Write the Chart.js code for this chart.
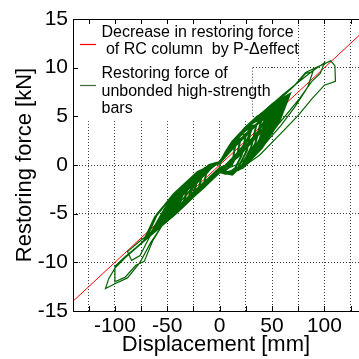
<!DOCTYPE html>
<html lang="en">
<head>
    <meta charset="UTF-8">
    <title>Restoring force vs displacement</title>
    <script src="https://cdn.jsdelivr.net/npm/chart.js@4/dist/chart.umd.min.js"></script>
    <style>
        body { margin: 0; background: #fff; }
        #wrap { width: 359px; height: 359px; }
    </style>
</head>
<body>
    <div id="wrap"><canvas id="chart" width="359" height="359"></canvas></div>

    <script>
        // red line: P-delta decrease
        const redX = [-140, 140];
        const redY = [-14, 14];

        // green hysteresis loops [displacement mm, force kN]
        // small / medium cycles (the dense band)
        const loop15 = [[0,0.1],[4,0.9],[8,1.5],[11,1.9],[15,2.1],[13,0.8],[9,-0.2],[5,-0.6],[0,-0.5],[-5,-1.1],[-9,-1.5],[-15,-2.0],[-13,-0.9],[-9,-0.4],[-5,0.1],[0,0.2]];
        const loop20 = [[0,0.2],[5,1.0],[10,1.8],[15,2.4],[20,2.7],[17,1.2],[12,0.1],[6,-0.5],[0,-0.5],[-7,-1.2],[-13,-1.8],[-20,-2.4],[-17,-1.1],[-11,-0.5],[-5,0.1],[0,0.3]];
        const loop25 = [[0,0.2],[6,1.4],[12,2.4],[19,3.2],[25,3.1],[21,1.0],[15,-0.3],[9,-0.8],[3,-0.7],[0,-0.5],[-8,-1.5],[-15,-2.3],[-25,-3.0],[-21,-1.4],[-15,-0.8],[-8,-0.1],[0,0.3]];
        const loop30 = [[0,0.2],[8,1.7],[15,2.7],[23,3.5],[30,3.8],[26,1.5],[18,-0.2],[10,-0.9],[3,-0.7],[0,-0.6],[-9,-1.6],[-18,-2.5],[-30,-3.6],[-26,-1.9],[-18,-0.9],[-9,0.0],[0,0.3]];
        const loop35 = [[0,0.2],[9,1.9],[18,3.1],[26,3.9],[35,4.1],[30,1.8],[21,-0.1],[12,-1.0],[4,-0.8],[0,-0.6],[-10,-1.7],[-21,-2.8],[-35,-4.0],[-30,-2.2],[-21,-1.0],[-10,0.0],[0,0.3]];
        const loop40 = [[0,0.3],[10,2.0],[20,3.3],[30,4.3],[40,4.7],[34,2.2],[24,0.3],[14,-0.8],[5,-0.8],[0,-0.6],[-12,-1.9],[-24,-3.1],[-40,-4.5],[-34,-2.6],[-24,-1.3],[-12,-0.2],[0,0.3]];
        const loop45 = [[0,0.3],[11,2.1],[23,3.6],[34,4.6],[45,5.1],[38,2.6],[27,0.5],[16,-0.6],[5,-0.8],[0,-0.6],[-14,-2.1],[-27,-3.4],[-45,-5.0],[-38,-3.0],[-27,-1.5],[-14,-0.3],[0,0.3]];
        const loop48 = [[0,0.3],[12,2.3],[24,3.8],[36,5.0],[48,5.5],[41,3.0],[29,0.8],[17,-0.5],[5,-0.9],[0,-0.7],[-15,-2.3],[-29,-3.6],[-48,-5.3],[-41,-3.3],[-29,-1.6],[-15,-0.4],[0,0.3]];
        const loop50 = [[0,0.2],[12,2.3],[25,3.8],[38,5.0],[50,5.6],[43,3.0],[30,0.8],[17,-0.5],[5,-0.8],[0,-0.6],[-15,-2.2],[-30,-3.7],[-50,-5.5],[-43,-3.4],[-30,-1.7],[-15,-0.4],[0,0.3]];
        const loop53 = [[0,0.2],[13,2.4],[26,4.0],[40,5.3],[53,5.9],[45,3.3],[32,0.9],[18,-0.5],[6,-0.9],[0,-0.7],[-16,-2.3],[-32,-3.9],[-53,-5.8],[-45,-3.6],[-32,-1.9],[-16,-0.5],[0,0.3]];
        const loop55 = [[0,0.3],[14,2.5],[27,4.0],[41,5.3],[55,6.1],[47,3.5],[33,1.1],[19,-0.4],[6,-0.9],[0,-0.6],[-16,-2.3],[-33,-4.0],[-55,-6.0],[-47,-3.9],[-33,-2.0],[-16,-0.5],[0,0.3]];
        const loop58 = [[0,0.3],[15,2.6],[29,4.2],[44,5.6],[58,6.4],[49,3.8],[35,1.3],[20,-0.3],[6,-0.9],[0,-0.6],[-17,-2.4],[-35,-4.3],[-58,-6.3],[-49,-4.1],[-35,-2.1],[-17,-0.5],[0,0.3]];
        const loop60 = [[0,0.3],[15,2.6],[30,4.3],[45,5.7],[60,6.6],[51,3.9],[36,1.4],[21,-0.3],[6,-0.9],[0,-0.6],[-18,-2.5],[-36,-4.4],[-60,-6.5],[-51,-4.3],[-36,-2.2],[-18,-0.6],[0,0.3]];
        const loop62 = [[0,0.3],[15,2.7],[31,4.4],[47,5.9],[62,6.8],[53,4.1],[37,1.5],[22,-0.3],[7,-0.9],[0,-0.6],[-19,-2.6],[-38,-4.6],[-63,-6.8],[-53,-4.6],[-38,-2.4],[-19,-0.6],[0,0.3]];
        const loop65 = [[0,0.3],[16,2.7],[32,4.5],[49,6.1],[65,7.1],[55,4.3],[39,1.6],[23,-0.2],[7,-0.9],[0,-0.6],[-21,-2.8],[-42,-5.0],[-70,-7.5],[-60,-5.1],[-42,-2.8],[-21,-0.7],[0,0.3]];
        const loop67 = [[0,0.3],[17,2.8],[34,4.7],[51,6.3],[67,7.3],[57,4.5],[40,1.7],[24,-0.1],[7,-0.9],[0,-0.6],[-22,-2.9],[-44,-5.2],[-72,-7.7],[-62,-5.4],[-44,-3.0],[-22,-0.8],[0,0.3]];
        // narrow cycles running close to the line
        const narrow30 = [[0,0.2],[10,1.4],[20,2.5],[30,3.5],[25,2.3],[15,1.0],[5,-0.1],[0,-0.3],[-10,-1.3],[-20,-2.4],[-30,-3.4],[-25,-2.2],[-15,-1.0],[-5,0.0],[0,0.2]];
        const narrow45 = [[0,0.2],[12,1.7],[25,3.1],[35,4.1],[45,5.0],[38,3.6],[26,2.1],[14,0.7],[4,-0.3],[0,-0.4],[-12,-1.6],[-25,-2.9],[-35,-3.9],[-45,-4.9],[-38,-3.4],[-26,-2.0],[-14,-0.7],[-4,0.1],[0,0.2]];
        const narrow55 = [[0,0.2],[14,2.0],[28,3.5],[42,4.8],[55,6.0],[46,4.3],[32,2.6],[18,0.9],[5,-0.3],[0,-0.4],[-14,-1.8],[-28,-3.2],[-42,-4.6],[-55,-5.9],[-46,-4.1],[-32,-2.5],[-18,-0.9],[-5,0.1],[0,0.2]];
        const narrow62 = [[0,0.2],[15,2.1],[31,3.8],[47,5.3],[62,6.7],[52,4.9],[36,3.0],[20,1.1],[6,-0.2],[0,-0.4],[-16,-1.9],[-32,-3.5],[-48,-5.1],[-64,-6.7],[-54,-4.8],[-36,-2.9],[-20,-1.1],[-6,0.1],[0,0.2]];
        // large cycles
        const loop88 = [[0,0.3],[20,3.0],[40,5.2],[60,7.0],[72,8.2],[82,9.4],[89,9.6],[84,8.0],[72,6.0],[58,4.0],[40,1.8],[22,0.0],[8,-0.8],[0,-0.7],[-20,-2.7],[-40,-4.6],[-60,-6.5],[-75,-7.7],[-88,-8.9],[-84,-9.8],[-76,-9.3],[-66,-7.2],[-48,-4.6],[-25,-1.8],[-8,-0.2],[0,0.3]];
        const loop100 = [[0,0.3],[20,3.1],[40,5.3],[60,7.2],[75,8.5],[88,9.6],[100,10.5],[96,9.4],[88,8.6],[76,6.8],[60,4.7],[40,2.2],[20,0.2],[0,-0.7],[-20,-2.7],[-40,-4.7],[-60,-6.6],[-80,-8.5],[-90,-9.4],[-100,-10.4],[-100,-12.0],[-90,-11.5],[-80,-10.3],[-72,-9.9],[-64,-7.8],[-48,-5.0],[-28,-2.6],[-10,-0.5],[0,0.3]];
        const loop110 = [[0,0.3],[20,3.0],[40,5.2],[60,7.1],[70,8.0],[82,9.5],[92,10.0],[100,10.4],[106,10.7],[110,10.2],[110.5,8.6],[100,8.2],[88,6.8],[75,5.1],[58,3.2],[38,1.0],[18,-0.5],[0,-0.8],[-20,-2.8],[-40,-4.8],[-60,-6.7],[-75,-8.1],[-90,-9.5],[-100,-10.6],[-106,-11.7],[-109,-12.7],[-100,-12.2],[-88,-11.6],[-76,-10.0],[-66,-8.0],[-50,-5.4],[-30,-2.8],[-12,-0.6],[0,0.3]];

        const bandLoops = [loop15, loop20, narrow30, loop25, loop30, loop35, loop40, narrow45, loop45, loop48, loop50, loop53,
                           narrow55, loop55, loop58, loop60, narrow62, loop62, loop65, loop67];
        const bigLoops = [loop88, loop100, loop110];

        const xTicks = [-125, -100, -75, -50, -25, 0, 25, 50, 75, 100, 125];
        const yTicks = [-15, -10, -5, 0, 5, 10, 15];

        const legendLines = [
            'Decrease in restoring force',
            ' of RC column  by P-\u0394effect',
            'Restoring force of',
            'unbonded high-strength',
            'bars'
        ];

        const FONT = '"Liberation Sans", Arial, sans-serif';
        const GREEN = '#006400';
        const RED = '#ff0000';

        const toPts = list => {
            const out = [];
            list.forEach(l => l.forEach(p => out.push({ x: p[0], y: p[1] })));
            return out;
        };
        const redPts = redX.map((x, i) => ({ x: x, y: redY[i] }));

        // white legend box, frame, inward ticks, legend text
        const framePlugin = {
            id: 'frame',
            beforeDatasetsDraw(chart) {
                const { ctx, chartArea: a, scales: { x, y } } = chart;
                const y10 = y.getPixelForValue(10);
                const y5 = y.getPixelForValue(5);
                const xs = x.getPixelForValue(31);
                ctx.save();
                ctx.fillStyle = '#fff';
                ctx.fillRect(a.left + 1, a.top + 1, x.getPixelForValue(75) - 1 - a.left - 1, y10 - 1 - a.top - 1);
                ctx.fillRect(a.left + 1, y10 - 1.5, xs - a.left - 1, y.getPixelForValue(4.5) - y10 + 1.5);
                ctx.fillRect(xs, y10 + 1, x.getPixelForValue(62) - xs, y5 - y10 - 2);
                ctx.strokeStyle = 'rgba(40,40,40,0.9)';
                ctx.lineWidth = 1;
                ctx.setLineDash([1, 2]);
                ctx.beginPath();
                ctx.moveTo(Math.round(xs) + 0.5, y10);
                ctx.lineTo(Math.round(xs) + 0.5, y5);
                ctx.stroke();
                ctx.restore();
            },
            afterDatasetsDraw(chart) {
                const { ctx, chartArea: a, scales: { x, y } } = chart;
                ctx.save();
                ctx.strokeStyle = '#000';
                ctx.lineWidth = 1;
                ctx.strokeRect(Math.round(a.left) + 0.5, Math.round(a.top) + 0.5, Math.round(a.right - a.left) + 2, Math.round(a.bottom - a.top));
                ctx.beginPath();
                xTicks.forEach(v => {
                    const px = Math.round(x.getPixelForValue(v)) + 0.5;
                    ctx.moveTo(px, a.bottom); ctx.lineTo(px, a.bottom - 5);
                    ctx.moveTo(px, a.top); ctx.lineTo(px, a.top + 5);
                });
                yTicks.forEach(v => {
                    const py = Math.round(y.getPixelForValue(v)) + 0.5;
                    ctx.moveTo(a.left, py); ctx.lineTo(a.left + 5, py);
                });
                ctx.stroke();

                // legend
                ctx.font = '16px ' + FONT;
                ctx.fillStyle = '#000';
                ctx.textBaseline = 'alphabetic';
                const baselines = [36.7, 54.2, 78.3, 95.8, 113.3];
                legendLines.forEach((t, i) => ctx.fillText(t, 101.5, baselines[i]));
                ctx.lineWidth = 1.2;
                ctx.strokeStyle = RED;
                ctx.beginPath(); ctx.moveTo(80, 44.5); ctx.lineTo(96, 44.5); ctx.stroke();
                ctx.strokeStyle = '#3d6b35';
                ctx.beginPath(); ctx.moveTo(80, 85.5); ctx.lineTo(96, 85.5); ctx.stroke();
                ctx.restore();
            }
        };

        new Chart(document.getElementById('chart'), {
            type: 'scatter',
            data: {
                datasets: [
                    {
                        label: 'Restoring force of unbonded high-strength bars',
                        data: toPts(bandLoops),
                        showLine: true,
                        borderColor: GREEN,
                        borderWidth: 2,
                        pointRadius: 0,
                        tension: 0,
                        order: 0
                    },
                    {
                        label: 'Restoring force of unbonded high-strength bars (large cycles)',
                        data: toPts(bigLoops),
                        showLine: true,
                        borderColor: GREEN,
                        borderWidth: 1.2,
                        pointRadius: 0,
                        tension: 0,
                        order: 0
                    },
                    {
                        label: 'Decrease in restoring force of RC column by P-\u0394effect',
                        data: redPts,
                        showLine: true,
                        borderColor: RED,
                        borderWidth: 1,
                        pointRadius: 0,
                        order: 1
                    }
                ]
            },
            options: {
                responsive: false,
                animation: false,
                devicePixelRatio: 1,
                layout: { padding: { top: 19, right: 0, left: 0, bottom: 0 } },
                plugins: { legend: { display: false }, tooltip: { enabled: false } },
                scales: {
                    x: {
                        type: 'linear',
                        min: -140,
                        max: 133,
                        afterBuildTicks: s => { s.ticks = xTicks.map(v => ({ value: v })); },
                        afterFit: s => { s.height = 48; },
                        ticks: {
                            autoSkip: false,
                            maxRotation: 0,
                            padding: 3,
                            color: '#000',
                            font: { family: FONT, size: 21 },
                            callback: v => (v % 50 === 0 ? String(v) : '')
                        },
                        grid: { color: 'rgba(40,40,40,0.9)', drawTicks: false },
                        border: { display: false, dash: [1, 2] },
                        title: {
                            display: true,
                            text: 'Displacement [mm]',
                            color: '#000',
                            font: { family: FONT, size: 22 },
                            padding: { top: 0, bottom: 1 }
                        }
                    },
                    y: {
                        min: -15,
                        max: 15,
                        afterBuildTicks: s => { s.ticks = yTicks.map(v => ({ value: v })); },
                        afterFit: s => { s.width = 73; },
                        ticks: {
                            padding: 5,
                            color: '#000',
                            font: { family: FONT, size: 21 }
                        },
                        grid: { color: 'rgba(40,40,40,0.9)', drawTicks: false },
                        border: { display: false, dash: [1, 2] },
                        title: {
                            display: true,
                            text: 'Restoring force [kN]',
                            color: '#000',
                            font: { family: FONT, size: 22 },
                            padding: { top: 12, bottom: 0 }
                        }
                    }
                }
            },
            plugins: [framePlugin]
        });
    </script>
</body>
</html>
